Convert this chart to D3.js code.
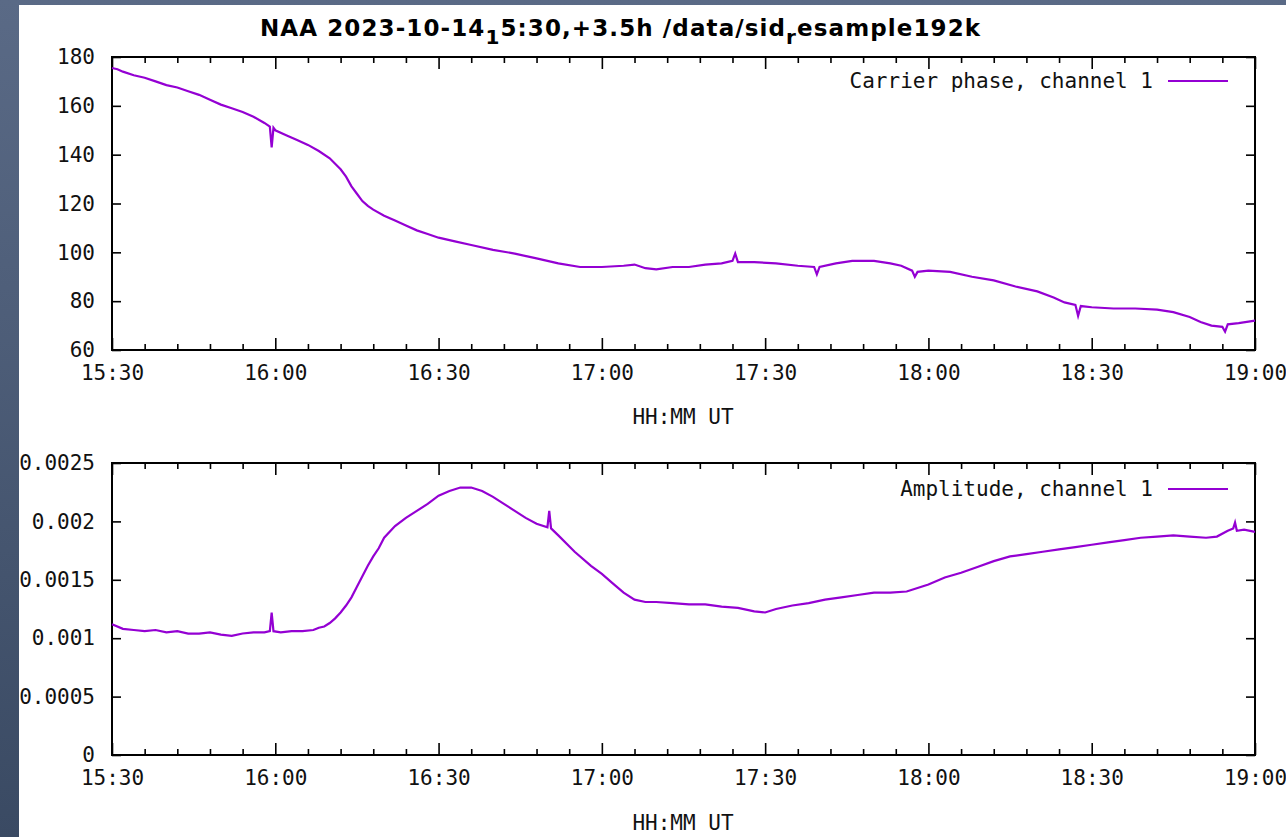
<!DOCTYPE html>
<html><head><meta charset="utf-8">
<script src="https://cdn.jsdelivr.net/npm/d3@7"></script>
<style>
html,body{margin:0;padding:0;width:1286px;height:837px;overflow:hidden;background:linear-gradient(to bottom,#5a6a86,#3a4a63);}
svg{display:block}
</style></head><body><svg id="c" width="1286" height="837"></svg>
<script>
// ---------- data ----------
const phaseTimes = ["15:30","15:31","15:32","15:34","15:36","15:38","15:40","15:42","15:44","15:46","15:48","15:50","15:52","15:54","15:56","15:58","15:59","15:59:20","15:59:40","16:00","16:02","16:04","16:06","16:08","16:10","16:12","16:13","16:14","16:15","16:16","16:17","16:18","16:20","16:22","16:24","16:26","16:28","16:30","16:33","16:36","16:40","16:44","16:48","16:52","16:56","17:00","17:04","17:06","17:08","17:10","17:13","17:16","17:19","17:22","17:24","17:24:30","17:25","17:28","17:32","17:36","17:39","17:39:30","17:40","17:43","17:46","17:50","17:53","17:55","17:57","17:57:30","17:58","18:00","18:04","18:08","18:12","18:16","18:20","18:23","18:25","18:27","18:27:30","18:28","18:30","18:34","18:38","18:42","18:45","18:48","18:50","18:52","18:54","18:54:30","18:55","18:57","19:00"];
const phaseValues = [175.5,175,174,172.5,171.5,170,168.5,167.5,166,164.5,162.5,160.5,159,157.5,155.5,153,151.5,143,151,150,148,146,144,141.5,138.5,134,131,127,124,121,119,117.5,115,113,111,109,107.5,106,104.5,103,101,99.5,97.5,95.5,94,94,94.5,95,93.5,93,94,94,95,95.5,96.5,99.5,96,96,95.5,94.5,94,91,94,95.5,96.5,96.5,95.5,94.5,92.5,90,92,92.5,92,90,88.5,86,84,81.5,79.5,78.5,74,78,77.5,77,77,76.5,75.5,73.5,71.5,70,69.5,67.5,70.5,71,72];

const ampTimes = ["15:30","15:32","15:34","15:36","15:38","15:40","15:42","15:44","15:46","15:48","15:50","15:52","15:54","15:56","15:58","15:59","15:59:20","15:59:40","16:01","16:03","16:05","16:07","16:08","16:09","16:10","16:11","16:12","16:13","16:14","16:15","16:16","16:17","16:18","16:19","16:20","16:22","16:24","16:26","16:28","16:30","16:32","16:34","16:36","16:38","16:40","16:42","16:44","16:46","16:48","16:50","16:50:20","16:50:40","16:52","16:55","16:58","17:00","17:02","17:04","17:06","17:08","17:10","17:13","17:16","17:19","17:22","17:25","17:28","17:30","17:32","17:35","17:38","17:41","17:44","17:47","17:50","17:53","17:56","17:58","18:00","18:03","18:06","18:09","18:12","18:15","18:18","18:21","18:24","18:27","18:30","18:33","18:36","18:39","18:42","18:45","18:48","18:51","18:53","18:55","18:56","18:56:20","18:56:40","18:58","19:00"];
const ampValues = [0.00112,0.00108,0.00107,0.00106,0.00107,0.00105,0.00106,0.00104,0.00104,0.00105,0.00103,0.00102,0.00104,0.00105,0.00105,0.00106,0.00122,0.00106,0.00105,0.00106,0.00106,0.00107,0.00109,0.00110,0.00113,0.00117,0.00122,0.00128,0.00135,0.00144,0.00153,0.00162,0.00170,0.00177,0.00186,0.00196,0.00203,0.00209,0.00215,0.00222,0.00226,0.00229,0.00229,0.00226,0.00221,0.00215,0.00209,0.00203,0.00198,0.00195,0.00209,0.00194,0.00188,0.00174,0.00162,0.00155,0.00147,0.00139,0.00133,0.00131,0.00131,0.00130,0.00129,0.00129,0.00127,0.00126,0.00123,0.00122,0.00125,0.00128,0.00130,0.00133,0.00135,0.00137,0.00139,0.00139,0.00140,0.00143,0.00146,0.00152,0.00156,0.00161,0.00166,0.00170,0.00172,0.00174,0.00176,0.00178,0.00180,0.00182,0.00184,0.00186,0.00187,0.00188,0.00187,0.00186,0.00187,0.00192,0.00194,0.00199,0.00192,0.00193,0.00191];

const phaseTicks = [60,80,100,120,140,160,180];
const ampTicks = [0,0.0005,0.001,0.0015,0.002,0.0025];
const ampTickLabels = ["0","0.0005","0.001","0.0015","0.002","0.0025"];
const xTickLabels = ["15:30","16:00","16:30","17:00","17:30","18:00","18:30","19:00"];
const titleParts = [["NAA 2023-10-14",false],["1",true],["5:30,+3.5h /data/sid",false],["r",true],["esample192k",false]];
const phaseLegend = "Carrier phase, channel 1";
const ampLegend = "Amplitude, channel 1";
const xLabel = "HH:MM UT";

// ---------- drawing ----------
const svg = d3.select("#c");
const day = "2023-10-14 ";
const parseT = s => (s.length === 5 ? d3.timeParse("%Y-%m-%d %H:%M")(day + s) : d3.timeParse("%Y-%m-%d %H:%M:%S")(day + s));
const MONO = "'DejaVu Sans Mono', monospace";
const LINE = "#9400d3";

svg.append("rect").attr("x",19).attr("y",5).attr("width",1267).attr("height",832).attr("fill","#fff");

// title
const title = svg.append("text").attr("x",260).attr("y",36)
  .attr("font-family","'DejaVu Sans', sans-serif").attr("font-weight","bold").attr("font-size",23)
  .attr("letter-spacing",1.1).attr("fill","#000");
titleParts.forEach(([t,sub],i)=>{
  const ts = title.append("tspan").text(t);
  if (sub) ts.attr("dy",8).attr("font-size",20);
  else if (i>0 && titleParts[i-1][1]) ts.attr("dy",-8);
});

const xDomain = [parseT(xTickLabels[0]), parseT(xTickLabels[xTickLabels.length-1])];

function panel(top, bottom, yDomain, yTicks, yLabels, times, values, legend, legendY, xLabelY) {
  const L = 112, R = 1255;
  const x = d3.scaleTime().domain(xDomain).range([L, R]);
  const y = d3.scaleLinear().domain(yDomain).range([bottom, top]);
  const g = svg.append("g");
  const style = sel => {
    sel.select(".domain").remove();
    sel.selectAll("line").attr("stroke","#000").attr("stroke-width",1.6);
    sel.selectAll("text").attr("font-family",MONO).attr("font-size",21).attr("fill","#111");
  };
  const majors = xTickLabels.map(parseT);
  const minors = d3.timeMinute.every(6).range(xDomain[0], xDomain[1]).filter(d => d.getMinutes() % 30 !== 0);
  g.append("g").attr("transform",`translate(0,${bottom})`)
    .call(d3.axisBottom(x).tickValues(majors).tickFormat(d3.timeFormat("%H:%M")).tickSize(-12).tickPadding(15).tickSizeOuter(0)).call(style);
  g.append("g").attr("transform",`translate(0,${bottom})`)
    .call(d3.axisBottom(x).tickValues(minors).tickFormat("").tickSize(-6).tickSizeOuter(0)).call(style);
  g.append("g").attr("transform",`translate(0,${top})`)
    .call(d3.axisTop(x).tickValues(majors).tickFormat("").tickSize(-12).tickSizeOuter(0)).call(style);
  g.append("g").attr("transform",`translate(0,${top})`)
    .call(d3.axisTop(x).tickValues(minors).tickFormat("").tickSize(-6).tickSizeOuter(0)).call(style);
  g.append("g").attr("transform",`translate(${L},0)`)
    .call(d3.axisLeft(y).tickValues(yTicks).tickFormat((d,i)=>yLabels[i]).tickSize(-9).tickPadding(17).tickSizeOuter(0)).call(style);
  g.append("g").attr("transform",`translate(${R},0)`)
    .call(d3.axisRight(y).tickValues(yTicks).tickFormat("").tickSize(-9).tickSizeOuter(0)).call(style);
  g.append("rect").attr("x",L).attr("y",top).attr("width",R-L).attr("height",bottom-top)
    .attr("fill","none").attr("stroke","#000").attr("stroke-width",2);
  const data = times.map((t,i)=>({t:parseT(t), v:values[i]}));
  g.append("path").datum(data).attr("fill","none").attr("stroke",LINE).attr("stroke-width",2.2)
    .attr("stroke-linejoin","miter")
    .attr("d", d3.line().x(d=>x(d.t)).y(d=>y(d.v)));
  g.append("text").attr("x",1153).attr("y",legendY+7).attr("text-anchor","end")
    .attr("font-family",MONO).attr("font-size",21).attr("fill","#111").text(legend);
  g.append("line").attr("x1",1168).attr("x2",1228).attr("y1",legendY).attr("y2",legendY)
    .attr("stroke",LINE).attr("stroke-width",2);
  g.append("text").attr("x",683).attr("y",xLabelY).attr("text-anchor","middle")
    .attr("font-family",MONO).attr("font-size",21).attr("fill","#111").text(xLabel);
}

panel(57, 350, [60,180], phaseTicks, phaseTicks.map(String), phaseTimes, phaseValues, phaseLegend, 81, 424);
panel(463, 755, [0,0.0025], ampTicks, ampTickLabels, ampTimes, ampValues, ampLegend, 489, 830);
</script></body></html>
